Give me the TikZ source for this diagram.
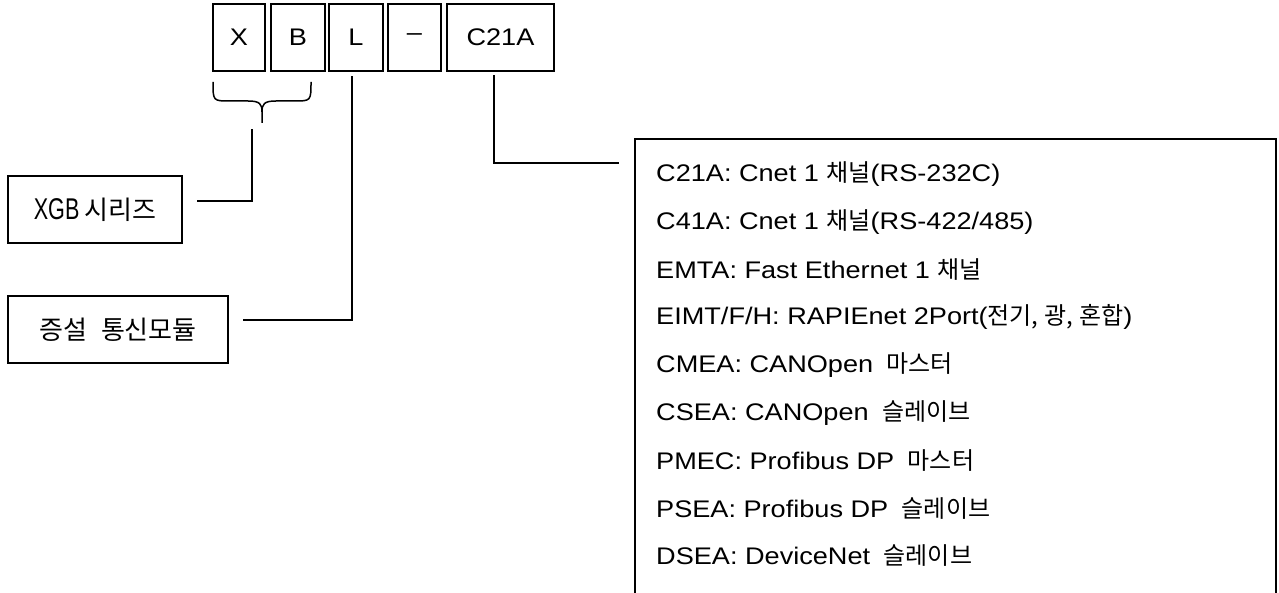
\documentclass[tikz,border=0pt]{standalone}
\usepackage{fontspec}
\setmainfont{Liberation Sans}[FakeStretch=1.13]
\newfontfamily\kr{Noto Sans CJK KR}
\newfontfamily\narrowlat{Liberation Sans}[FakeStretch=0.72]
\begin{document}
\begin{tikzpicture}[x=1pt,y=-1pt,
  wire/.style={line width=1.6pt,line cap=rect},
  codebox/.style={draw,line width=1.6pt,minimum height=67pt,inner sep=0pt,
    font=\fontsize{24}{24}\selectfont},
  labelbox/.style={draw,line width=1.6pt,minimum height=67pt,inner sep=0pt},
  item/.style={anchor=west,inner sep=0pt,font=\fontsize{24}{24}\selectfont}]
\useasboundingbox (0,0) rectangle (1279,593);
% code boxes
\node[codebox,minimum width=52pt] (cx) at (239,37.5) {X};
\node[codebox,minimum width=54pt] (cb) at (298,37.5) {B};
\node[codebox,minimum width=54pt] (cl) at (356,37.5) {L};
\node[codebox,minimum width=53pt] (cd) at (414.5,37.5) {–};
\node[codebox,minimum width=107pt] (cc) at (500.5,37.5) {C21A};
% label boxes
\node[labelbox,minimum width=174pt] (xgb) at (95,209.5)
  {\fontsize{30}{30}\selectfont\narrowlat XGB\hspace{5pt}{\kr\fontsize{26}{26}\selectfont 시리즈}};
\node[labelbox,minimum width=220pt] (mod) at (118,329.5)
  {\kr\fontsize{26}{26}\selectfont 증설\hspace{14pt}통신모듈};
% brace
\coordinate (bl) at (213,82);
\coordinate (br) at (311,82);
\coordinate (btip) at (262,123);
\draw[line width=1.5pt]
  (bl) .. controls (213,101) and (213,101) .. (230,101) -- (248,101)
  .. controls (260,101) and (262,104) .. (262,112) -- (btip);
\draw[line width=1.5pt]
  (br) .. controls (311,101) and (311,101) .. (294,101) -- (276,101)
  .. controls (264,101) and (262,104) .. (262,112);
% connectors
\coordinate (xs) at (252,130);
\coordinate (xe) at (198,201);
\draw[wire] (xs) |- (xe);
\coordinate (ls) at (352,77);
\coordinate (le) at (244,320);
\draw[wire] (ls) |- (le);
\coordinate (cs) at (494,76);
\coordinate (ce) at (618,163);
\draw[wire] (cs) |- (ce);
% list box (open at the bottom)
\coordinate (lbl) at (635,600);
\coordinate (ltl) at (635,139);
\coordinate (ltr) at (1276,139);
\coordinate (lbr) at (1276,600);
\draw[line width=1.6pt] (lbl) -- (ltl) -- (ltr) -- (lbr);
% list items
\node[item] (i1) at (656,174) {C21A: Cnet 1 {\kr 채널}(RS-232C)};
\node[item] (i2) at (656,221.75) {C41A: Cnet 1 {\kr 채널}(RS-422/485)};
\node[item] (i3) at (656,269.5) {EMTA: Fast Ethernet 1 {\kr 채널}};
\node[item] (i4) at (656,317.25) {EIMT/F/H: RAPIEnet 2Port({\kr 전기,\hspace{6pt}광,\hspace{6pt}혼합})};
\node[item] (i5) at (656,365) {CMEA: CANOpen\hspace{6pt} {\kr 마스터}};
\node[item] (i6) at (656,412.75) {CSEA: CANOpen\hspace{6pt} {\kr 슬레이브}};
\node[item] (i7) at (656,460.5) {PMEC: Profibus DP\hspace{6pt} {\kr 마스터}};
\node[item] (i8) at (656,508.25) {PSEA: Profibus DP\hspace{6pt} {\kr 슬레이브}};
\node[item] (i9) at (656,556) {DSEA: DeviceNet\hspace{6pt} {\kr 슬레이브}};
\end{tikzpicture}
\end{document}
